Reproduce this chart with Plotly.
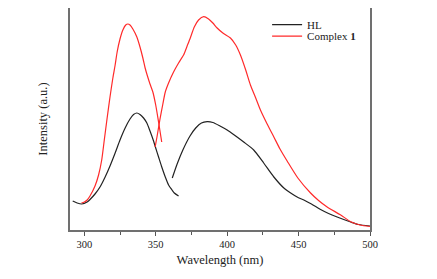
import plotly.graph_objects as go

# HL (black) – two measured segments
hl1_x = [291.9, 295, 298.2, 302, 304, 307.5, 311, 314.6, 318, 321.6, 325, 328.6, 332, 334.5, 336.8, 339, 341.5, 343.8, 346, 348.5, 350, 352, 354, 356.7, 359, 361.4, 363, 366]
hl1_y = [29, 27, 26, 28, 30.5, 36, 43, 53, 64, 77, 90, 102, 111, 115.5, 117, 115.5, 112, 107, 99, 89, 82, 73, 64, 53, 45, 40, 37, 34]
hl2_x = [361.6, 365, 369, 374, 378, 382, 386, 390, 395, 400, 405, 411.6, 418.6, 425.6, 432.7, 439.7, 445, 449, 453.7, 459, 465.4, 471, 477, 486.5, 492, 500]
hl2_y = [52, 66, 80, 94, 102, 107, 108.3, 107.5, 104, 100, 95, 88, 80, 67, 53, 42, 36.5, 33, 30, 26, 20.5, 16.5, 13, 8, 5.5, 4]

# Complex 1 (red) – two measured segments
c1_x = [298, 300, 302, 304, 307.5, 310, 312.2, 314, 316, 318, 320, 321.6, 323, 325, 327, 329, 330.5, 332, 334, 336.8, 339, 341, 342.6, 344, 346, 348, 350, 352, 354.2]
c1_y = [27, 28, 30, 34, 44, 55, 70, 90, 112, 133, 152, 165, 178, 191, 200, 205, 206, 205, 201, 193, 183, 172, 162, 155, 146, 138, 125, 108, 88]
c2_x = [349.6, 351, 353, 355, 356.7, 359, 362.5, 366, 369.5, 372, 374.2, 377, 380, 383.6, 387, 390, 393, 397, 402.3, 406, 409.3, 413, 416.3, 420, 423.3, 428, 432.7, 437, 442, 449.5, 458.4, 464, 470, 479.5, 486.5, 493, 500]
c2_y = [83, 94, 111, 126, 138, 147, 158, 167, 175, 184, 192, 203, 210, 213.3, 211, 207, 202, 197, 192, 185, 175, 160, 145, 132, 120, 106, 93, 81, 69, 52, 37, 29.5, 23, 15, 8.3, 5, 3.5]

x_ticks = [300, 350, 400, 450, 500]

BLACK = "#222222"
RED = "#ff2a2a"
FONT = "Liberation Serif"
SMOOTH = 0.7

fig = go.Figure()
fig.add_trace(go.Scatter(x=hl1_x, y=hl1_y, mode="lines",
                         line=dict(color=BLACK, width=1.2, shape="spline", smoothing=SMOOTH),
                         name="HL", legend="legend"))
fig.add_trace(go.Scatter(x=hl2_x, y=hl2_y, mode="lines",
                         line=dict(color=BLACK, width=1.2, shape="spline", smoothing=SMOOTH),
                         name="HL", showlegend=False))
fig.add_trace(go.Scatter(x=c1_x, y=c1_y, mode="lines",
                         line=dict(color=RED, width=1.2, shape="spline", smoothing=SMOOTH),
                         name="Complex <b>1</b>", legend="legend2"))
fig.add_trace(go.Scatter(x=c2_x, y=c2_y, mode="lines",
                         line=dict(color=RED, width=1.2, shape="spline", smoothing=SMOOTH),
                         name="Complex <b>1</b>", showlegend=False))

legend_common = dict(bgcolor="rgba(0,0,0,0)", borderwidth=0, font=dict(family=FONT, size=11, color="#222"),
                     xanchor="left", yanchor="middle", itemwidth=30)
# The page body adds an 8px margin on the top/left, so the figure is sized 8px smaller.
fig.update_layout(
    width=429, height=271,
    margin=dict(l=62, r=67, t=0, b=49, autoexpand=False),
    paper_bgcolor="white", plot_bgcolor="white",
    font=dict(family=FONT, size=11, color="#222"),
    legend=dict(x=0.657, y=0.925, **legend_common),
    legend2=dict(x=0.657, y=0.873, **legend_common),
    xaxis=dict(range=[290, 500], tickvals=x_ticks, ticks="outside", ticklen=4, tickcolor="#555",
               showline=True, linecolor="#707070", linewidth=1.5, mirror=True, showgrid=False, zeroline=False,
               minor=dict(dtick=25, tick0=300, ticks="outside", ticklen=3, tickcolor="#555"),
               tickfont=dict(family=FONT, size=10.5, color="#222"),
               title=dict(text="Wavelength (nm)", font=dict(family=FONT, size=12.5, color="#222"), standoff=6)),
    yaxis=dict(range=[0, 222], showticklabels=False, ticks="", showline=True, linecolor="#707070", linewidth=1.5,
               mirror=True, showgrid=False, zeroline=False,
               title=dict(text="Intensity (a.u.)", font=dict(family=FONT, size=12.5, color="#222"), standoff=18)),
)

fig.write_html("out.html")
